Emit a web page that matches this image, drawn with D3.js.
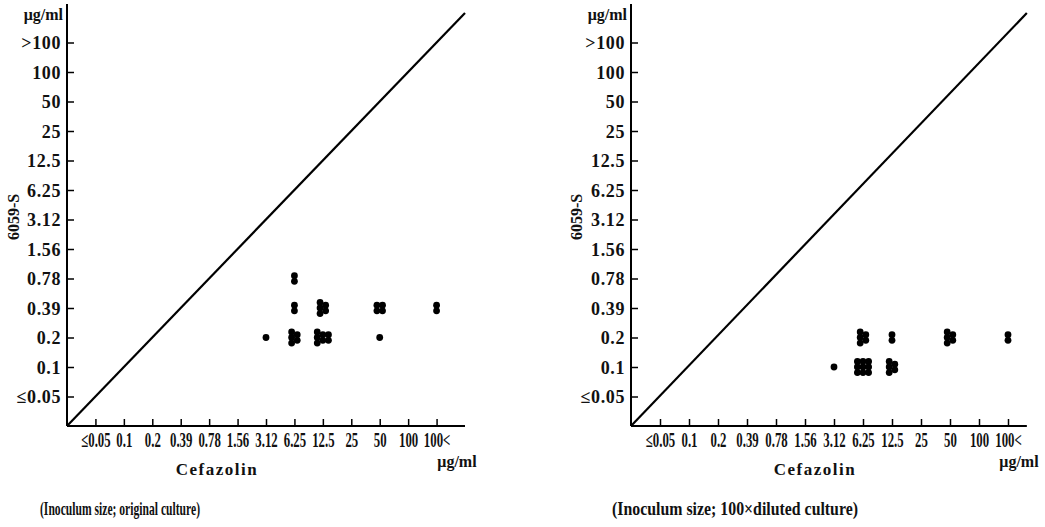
<!DOCTYPE html>
<html>
<head>
<meta charset="utf-8">
<script src="https://cdn.jsdelivr.net/npm/d3@7"></script>
<style>
  html, body { margin: 0; padding: 0; background: #fff; }
  svg { display: block; }
  text { font-family: "Liberation Serif", "DejaVu Serif", serif; fill: #111; }
</style>
</head>
<body>
<svg id="chart" width="1045" height="527"></svg>
<script>
// MIC categories (µg/ml) for both axes
const xLabels = ["≤0.05", "0.1", "0.2", "0.39", "0.78", "1.56", "3.12", "6.25", "12.5", "25", "50", "100", "100<"];
const yLabels = ["≤0.05", "0.1", "0.2", "0.39", "0.78", "1.56", "3.12", "6.25", "12.5", "25", "50", "100", ">100"];

// Strains per MIC pair: [Cefazolin MIC, 6059-S MIC, number of strains]
const originalCulture = [
  ["3.12", "0.2", 1],
  ["6.25", "0.78", 2],
  ["6.25", "0.39", 2],
  ["6.25", "0.2", 5],
  ["12.5", "0.39", 5],
  ["12.5", "0.2", 7],
  ["50", "0.39", 4],
  ["50", "0.2", 1],
  ["100<", "0.39", 2]
];
const dilutedCulture = [
  ["3.12", "0.1", 1],
  ["6.25", "0.2", 5],
  ["6.25", "0.1", 9],
  ["12.5", "0.2", 2],
  ["12.5", "0.1", 5],
  ["50", "0.2", 5],
  ["100<", "0.2", 2]
];

// Line of equal MIC, in category-index units
const equalLineLeft = [[0, 0], [14, 14]];
const equalLineRight = [[0, 0], [13.65, 14]];

const captions = ["(Inoculum size; original culture)", "(Inoculum size; 100×diluted culture)"];

const svg = d3.select("#chart");

// columns of up to three dots; the first column is filled first
function columnSizes(n) {
  if (n <= 2) return [n];
  if (n === 4) return [2, 2];
  const rest = n - 3;
  const k = Math.ceil(rest / 3);
  const sizes = [3];
  for (let i = 0; i < k; i++) {
    sizes.push(Math.floor(rest / k) + (i < rest % k ? 1 : 0));
  }
  return sizes;
}

function panel(cfg) {
  const g = svg.append("g");
  const x = d3.scaleLinear().domain([0, 14]).range(cfg.xRange);
  const y = d3.scaleLinear().domain([0, 14]).range([426, 13]);
  const xi = l => xLabels.indexOf(l) + 1;
  const yi = l => yLabels.indexOf(l) + 1;

  const x0 = x(0), y0 = y(0);
  const xEnd = x(cfg.line[1][0]);
  g.append("line").attr("x1", x0).attr("x2", x0).attr("y1", cfg.yTop).attr("y2", y0)
    .attr("stroke", "#000").attr("stroke-width", 2);
  g.append("line").attr("x1", x0).attr("x2", xEnd).attr("y1", y0).attr("y2", y0)
    .attr("stroke", "#000").attr("stroke-width", 2);

  // x axis (ticks pointing up, condensed labels below)
  const xAxis = d3.axisBottom(x)
    .tickValues(d3.range(1, 14))
    .tickFormat(i => xLabels[i - 1])
    .tickSizeInner(-7).tickSizeOuter(0).tickPadding(-1);
  const gx = g.append("g").attr("transform", `translate(0,${y0})`).call(xAxis);
  gx.select(".domain").remove();
  gx.selectAll(".tick line").attr("stroke", "#000").attr("stroke-width", 1.5);
  gx.selectAll(".tick text")
    .attr("font-family", "Liberation Serif, serif")
    .attr("font-weight", "bold")
    .attr("font-size", 20)
    .attr("fill", "#111")
    .attr("y", 21)
    .attr("dy", 0)
    .attr("transform", "scale(0.64,1)");

  // y axis (ticks pointing right, labels left)
  const yAxis = d3.axisLeft(y)
    .tickValues(d3.range(1, 14))
    .tickFormat(i => yLabels[i - 1])
    .tickSizeInner(-7).tickSizeOuter(0).tickPadding(6);
  const gy = g.append("g").attr("transform", `translate(${x0},0)`).call(yAxis);
  gy.select(".domain").remove();
  gy.selectAll(".tick line").attr("stroke", "#000").attr("stroke-width", 1.5);
  gy.selectAll(".tick text")
    .attr("font-family", "Liberation Serif, serif")
    .attr("font-weight", "bold")
    .attr("font-size", 18)
    .attr("letter-spacing", 0.6)
    .attr("fill", "#111")
    .attr("x", -6)
    .attr("dy", "0.35em");

  // unit labels
  g.append("text").attr("x", x0 - 4).attr("y", 20).attr("text-anchor", "end")
    .attr("font-weight", "bold").attr("font-size", 16).text("μg/ml");
  g.append("text").attr("x", cfg.unitX).attr("y", 467).attr("text-anchor", "middle")
    .attr("font-weight", "bold").attr("font-size", 16).text("μg/ml");

  // axis titles
  g.append("text").attr("x", cfg.titleCx).attr("y", 475).attr("text-anchor", "middle")
    .attr("font-weight", "bold").attr("font-size", 17).attr("letter-spacing", 1.5).text("Cefazolin");
  g.append("text")
    .attr("transform", `translate(${cfg.titleX},217) rotate(-90)`)
    .attr("text-anchor", "middle").attr("font-weight", "bold")
    .attr("font-family", "Liberation Sans, sans-serif")
    .attr("font-size", 16).text("6059-S");

  // equal-MIC diagonal
  g.append("path")
    .attr("d", d3.line().x(d => x(d[0])).y(d => y(d[1]))(cfg.line))
    .attr("stroke", "#000").attr("stroke-width", 2.2).attr("fill", "none");

  // strains: one dot each, grouped in small columns around the MIC pair
  const s = 5.6;
  const dots = [];
  cfg.data.forEach(([cx, cy, n]) => {
    const sizes = columnSizes(n);
    sizes.forEach((m, c) => {
      for (let r = 0; r < m; r++) {
        dots.push({
          px: x(xi(cx)) + (c - (sizes.length - 1) / 2) * s,
          py: y(yi(cy)) + (r - (m - 1) / 2) * s
        });
      }
    });
  });
  g.selectAll("circle.strain").data(dots).join("circle")
    .attr("class", "strain")
    .attr("cx", d => d.px).attr("cy", d => d.py)
    .attr("r", 3.4).attr("fill", "#000");

  // caption
  g.append("text").attr("x", cfg.capX).attr("y", 515)
    .attr("font-size", 19).attr("font-weight", "bold")
    .attr("textLength", cfg.capLen).attr("lengthAdjust", "spacingAndGlyphs")
    .text(cfg.caption);
}

panel({ xRange: [67, 465], yTop: 4, data: originalCulture, line: equalLineLeft,
        titleX: 19, titleCx: 217, unitX: 457, caption: captions[0], capX: 40, capLen: 160 });
panel({ xRange: [631, 1037], yTop: 4, data: dilutedCulture, line: equalLineRight,
        titleX: 582, titleCx: 815, unitX: 1019, caption: captions[1], capX: 612, capLen: 246 });
</script>
</body>
</html>
